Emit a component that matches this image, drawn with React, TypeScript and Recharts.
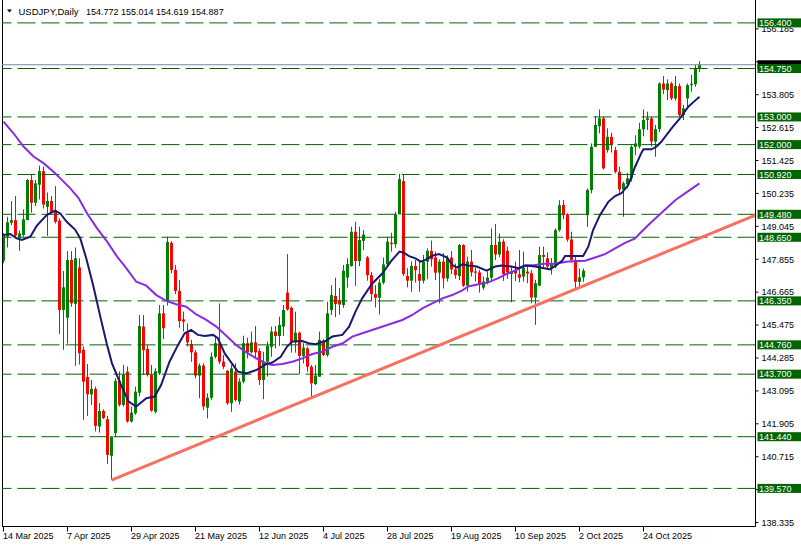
import React from 'react';
import { ComposedChart, Bar, Line, XAxis, YAxis, ReferenceLine } from 'recharts';

const COLOR_BULL = '#008000';
const COLOR_BEAR = '#ff0000';
const COLOR_FAST = '#191970';
const COLOR_SLOW = '#8a2be2';
const COLOR_TREND = '#fa7060';
const COLOR_LEVEL = '#006400';
const COLOR_BID = '#778899';
const FONT = '"Liberation Sans", Arial, sans-serif';

// daily bars from 14 Mar 2025, [open, high, low, close]
const ohlc: number[][] = [
  [147.80, 148.80, 147.71, 148.73], [148.67, 149.39, 148.28, 149.19], [149.18, 149.96, 149.09, 149.27],
  [149.27, 150.14, 148.61, 148.71], [148.63, 148.89, 148.16, 148.79], [148.73, 149.66, 148.67, 149.30],
  [149.27, 150.75, 149.27, 150.72], [150.72, 150.91, 149.54, 149.90], [149.90, 150.72, 149.78, 150.60],
  [150.55, 151.24, 150.02, 151.04], [151.04, 151.20, 149.69, 149.83], [149.75, 150.27, 148.70, 149.96],
  [149.96, 150.14, 149.51, 149.57], [149.57, 150.50, 149.15, 149.21], [149.25, 149.33, 145.15, 146.02],
  [146.02, 147.43, 144.58, 146.84], [145.74, 148.15, 144.81, 147.83], [147.83, 148.15, 146.14, 146.26],
  [146.24, 148.28, 144.00, 147.89], [147.56, 147.89, 144.05, 144.46], [144.58, 144.70, 142.05, 143.43],
  [143.60, 144.07, 142.19, 142.97], [142.97, 143.49, 142.59, 143.17], [143.17, 143.25, 141.63, 141.83],
  [141.81, 142.65, 141.59, 142.37], [142.37, 142.43, 142.08, 142.11], [142.07, 142.19, 140.46, 140.78],
  [140.75, 141.45, 139.88, 141.45], [141.57, 143.55, 141.42, 143.46], [143.46, 143.80, 142.53, 142.59],
  [142.59, 144.04, 142.53, 143.67], [143.79, 143.98, 141.95, 141.99], [141.99, 142.53, 141.95, 142.31],
  [142.29, 143.25, 142.23, 143.07], [143.03, 145.84, 142.90, 145.44], [145.42, 145.84, 143.67, 144.57],
  [144.61, 144.75, 143.61, 143.67], [143.67, 144.03, 142.34, 142.38], [142.34, 143.91, 142.28, 143.81],
  [143.73, 146.20, 143.67, 145.90], [145.90, 146.20, 144.97, 145.36], [146.35, 148.67, 146.18, 148.48],
  [148.45, 148.51, 147.35, 147.47], [147.47, 147.65, 146.60, 146.71], [146.71, 147.10, 145.38, 145.62],
  [145.68, 145.96, 145.24, 145.60], [145.24, 145.54, 144.70, 144.85], [144.79, 144.94, 144.15, 144.49],
  [144.49, 144.57, 143.55, 143.65], [143.65, 144.09, 142.83, 144.01], [144.01, 144.09, 142.40, 142.53],
  [142.49, 143.01, 142.10, 142.85], [142.85, 144.49, 142.77, 144.33], [144.33, 145.06, 144.27, 144.82],
  [144.82, 146.26, 144.06, 144.15], [144.15, 144.39, 143.89, 143.97], [143.82, 143.85, 142.59, 142.65],
  [142.65, 144.03, 142.34, 143.91], [143.79, 144.09, 142.71, 142.77], [142.71, 143.55, 142.60, 143.43],
  [143.43, 145.09, 143.37, 144.82], [144.82, 145.02, 144.27, 144.49], [144.49, 145.24, 144.45, 144.85],
  [144.85, 145.44, 144.30, 144.49], [144.54, 144.63, 143.31, 143.49], [143.49, 144.51, 142.80, 144.15],
  [144.15, 144.88, 143.61, 144.72], [144.69, 145.42, 144.33, 145.24], [145.24, 145.44, 144.63, 145.08],
  [145.08, 145.78, 144.72, 145.48], [145.42, 146.20, 145.08, 146.02], [146.65, 148.04, 146.00, 146.04],
  [146.10, 146.15, 144.48, 144.85], [144.85, 145.96, 144.48, 145.20], [145.20, 145.24, 143.71, 144.36],
  [144.36, 144.82, 144.09, 144.66], [144.63, 144.70, 143.79, 143.97], [143.97, 144.03, 142.83, 143.37],
  [143.34, 144.03, 143.31, 143.65], [143.61, 145.24, 143.61, 144.94], [144.91, 144.96, 144.36, 144.39],
  [144.39, 146.32, 144.33, 145.90], [146.02, 146.92, 145.84, 146.56], [146.53, 147.19, 145.76, 146.24],
  [146.35, 146.82, 145.85, 146.22], [146.20, 147.65, 146.10, 147.44], [147.19, 147.89, 146.83, 147.68],
  [147.61, 149.03, 147.59, 148.85], [148.85, 149.21, 146.89, 147.79], [147.79, 149.03, 147.60, 148.55],
  [148.52, 148.91, 148.19, 148.75], [147.92, 147.97, 147.08, 147.28], [147.28, 147.40, 146.34, 146.60],
  [146.60, 146.92, 146.11, 146.46], [146.46, 147.13, 145.86, 147.01], [147.01, 147.92, 146.95, 147.67],
  [147.67, 148.67, 147.59, 148.49], [148.45, 148.81, 148.13, 148.40], [148.40, 149.57, 148.27, 149.48],
  [149.48, 150.94, 149.48, 150.75], [150.68, 150.90, 147.25, 147.32], [147.25, 147.53, 146.84, 147.08],
  [147.08, 147.77, 146.68, 147.61], [147.61, 147.83, 147.01, 147.46], [147.32, 147.77, 146.68, 147.08],
  [147.08, 148.01, 146.98, 147.77], [147.77, 148.25, 147.13, 148.16], [148.16, 148.53, 147.59, 147.85],
  [147.92, 148.13, 147.10, 147.37], [147.37, 147.85, 146.26, 147.77], [147.77, 148.07, 146.80, 147.16],
  [147.16, 148.00, 147.05, 147.90], [147.92, 148.15, 147.32, 147.49], [147.49, 147.70, 147.15, 147.28],
  [147.25, 148.41, 147.10, 148.37], [148.37, 148.40, 146.85, 146.90], [146.90, 147.95, 146.69, 147.77],
  [147.77, 148.19, 147.23, 147.38], [147.41, 147.55, 147.05, 147.37], [147.38, 147.47, 146.65, 146.95],
  [146.83, 147.23, 146.75, 147.05], [147.05, 147.41, 146.95, 147.19], [147.19, 148.97, 147.05, 148.37],
  [148.37, 149.13, 147.83, 148.03], [148.03, 148.79, 147.93, 148.49], [148.49, 148.58, 147.07, 147.32],
  [148.16, 148.31, 147.15, 147.38], [147.32, 147.60, 146.30, 147.40], [147.47, 147.77, 147.07, 147.34],
  [147.31, 148.19, 147.02, 147.19], [147.23, 148.13, 147.05, 147.55], [147.41, 147.65, 146.99, 147.34],
  [147.35, 147.47, 146.26, 146.47], [146.47, 147.11, 145.48, 146.99], [146.90, 148.31, 146.90, 148.01],
  [148.01, 148.31, 147.53, 147.94], [147.89, 148.10, 147.47, 147.59], [147.55, 147.90, 147.30, 147.68],
  [147.59, 148.97, 147.53, 148.91], [148.91, 149.99, 148.85, 149.81], [149.82, 150.00, 149.30, 149.45],
  [149.48, 149.52, 148.49, 148.57], [148.57, 148.85, 147.73, 147.83], [147.83, 147.95, 146.74, 147.04],
  [147.04, 147.52, 146.86, 147.20], [147.20, 147.52, 147.04, 147.44], [149.45, 150.42, 149.03, 150.36],
  [150.36, 152.04, 150.24, 151.92], [151.92, 153.03, 151.92, 152.71], [152.67, 153.27, 152.40, 152.95],
  [152.95, 153.01, 151.10, 151.14], [151.80, 152.59, 151.71, 152.28], [152.28, 152.43, 151.71, 151.98],
  [151.80, 151.92, 150.96, 151.02], [151.02, 151.20, 150.24, 150.38], [150.38, 150.66, 149.39, 150.60],
  [150.57, 150.98, 150.42, 150.78], [150.78, 151.98, 150.66, 151.92], [151.92, 152.34, 151.62, 152.04],
  [151.93, 152.79, 151.86, 152.55], [152.55, 153.27, 152.30, 152.89], [152.89, 153.19, 152.53, 152.95],
  [152.95, 153.00, 151.93, 152.11], [152.11, 152.71, 151.56, 152.56], [152.56, 154.25, 152.45, 154.21],
  [154.21, 154.48, 153.83, 153.99], [153.97, 154.36, 153.61, 154.21], [154.21, 154.27, 153.61, 153.67],
  [153.67, 154.48, 153.59, 154.12], [154.12, 154.21, 153.01, 153.07], [153.07, 153.43, 152.89, 153.31],
  [153.67, 154.21, 153.31, 154.15], [154.15, 154.52, 153.91, 154.20], [154.18, 154.88, 154.09, 154.77],
  [154.772, 155.014, 154.619, 154.887],
];

// fast moving average as [bar, price]
const fastMa: number[][] = [
  [0, 148.73], [1.7, 148.77], [3.3, 148.61], [4.6, 148.55], [6.7, 148.67], [8.3, 149.06], [10.8, 149.45],
  [12.9, 149.61], [14.2, 149.51], [15.8, 149.21], [17.9, 148.93], [19.2, 148.61], [20.8, 147.83],
  [22.5, 146.86], [24.2, 145.78], [25.8, 144.81], [27.1, 144.10], [29.2, 143.37], [31.3, 142.71],
  [33.2, 142.53], [35.7, 142.83], [37.8, 142.89], [39.4, 143.31], [41.5, 144.15], [43.6, 144.75],
  [45.3, 145.18], [46.9, 145.30], [48.6, 145.12], [50.3, 145.08], [52.4, 145.12], [53.6, 145.00],
  [55.3, 144.45], [57.4, 144.03], [58.6, 143.79], [60.7, 143.73], [63.2, 143.85], [65.7, 144.06],
  [67.2, 144.12], [69.3, 144.33], [70.9, 144.70], [72.2, 144.88], [74.7, 144.90], [76.3, 144.82],
  [78.0, 144.78], [80.5, 144.90], [82.2, 145.06], [84.7, 145.12], [86.4, 145.42], [88.0, 145.96],
  [89.7, 146.45], [92.2, 146.98], [94.7, 147.34], [96.8, 147.77], [98.0, 147.97], [99.0, 148.13],
  [100.1, 148.09], [101.4, 147.97], [103.0, 147.89], [104.3, 147.77], [105.5, 147.83], [107.2, 147.98],
  [108.9, 148.04], [110.9, 147.92], [112.2, 147.65], [113.4, 147.55], [114.7, 147.67], [116.2, 147.63],
  [118.3, 147.59], [120.8, 147.44], [122.9, 147.59], [124.5, 147.63], [127.0, 147.59], [128.7, 147.53],
  [130.4, 147.63], [132.9, 147.59], [134.5, 147.55], [136.6, 147.49], [138.3, 147.65], [139.7, 147.81],
  [140.4, 147.97], [142.0, 147.97], [144.9, 147.97], [146.2, 148.31], [147.4, 148.91], [149.1, 149.45],
  [151.2, 149.93], [152.9, 150.14], [154.5, 150.24], [156.2, 150.54], [157.9, 151.20], [159.5, 151.71],
  [160.0, 151.83], [162.0, 151.83], [163.3, 151.93], [164.5, 152.11], [167.0, 152.59], [169.1, 152.95],
  [171.2, 153.37], [172.9, 153.59], [174.0, 153.73],
];

// slow moving average as [bar, price]
const slowMa: number[][] = [
  [0, 152.83], [2.5, 152.41], [5, 151.93], [7.5, 151.57], [10, 151.33], [12.5, 151.02], [14.2, 150.78],
  [16.7, 150.42], [18.8, 150.06], [20.9, 149.51], [23.4, 148.97], [25.9, 148.49], [28.4, 147.95],
  [30.4, 147.59], [33.2, 147.04], [35.7, 146.90], [38.2, 146.56], [40.7, 146.35], [43.2, 146.23],
  [45.7, 146.14], [48.2, 145.86], [50.7, 145.66], [53.2, 145.42], [55.7, 145.09], [58.2, 144.75],
  [60.7, 144.49], [63.2, 144.27], [65.7, 144.09], [67.2, 144.03], [69.7, 144.07], [72.2, 144.15],
  [74.7, 144.27], [77.2, 144.43], [79.7, 144.51], [82.2, 144.69], [84.7, 144.81], [87.2, 145.06],
  [89.7, 145.18], [99.7, 145.66], [102.2, 145.84], [104.7, 146.08], [107.2, 146.26], [109.7, 146.44],
  [112.2, 146.56], [114.7, 146.73], [116.2, 146.87], [118.7, 146.95], [121.2, 147.02], [123.7, 147.17],
  [126.2, 147.35], [128.7, 147.50], [130.4, 147.63], [132.9, 147.65], [135.4, 147.69], [137.9, 147.69],
  [139.7, 147.74], [141.2, 147.77], [145.4, 147.80], [147.9, 147.92], [150.4, 148.04], [152.9, 148.25],
  [155.4, 148.45], [157.9, 148.61], [159.5, 148.85], [162, 149.2], [165, 149.6], [168, 150.0],
  [171, 150.3], [174, 150.6],
];

const trendLine = [
  { x: 27, y: 139.87 },
  { x: 188, y: 149.45 },
];

const levels = [156.4, 154.75, 153.0, 152.0, 150.92, 149.48, 148.65, 146.35, 144.76, 143.7, 141.44, 139.57];
const bid = 154.887;
// 154.995 and 139.525 sit under the level boxes, only their tick marks show
const priceTicks = [
  156.185, 154.995, 153.805, 152.615, 151.425, 150.235, 149.045, 147.855,
  146.665, 145.475, 144.285, 143.095, 141.905, 140.715, 139.525, 138.335,
];
const hiddenTicks = [154.995, 139.525];
const dateTicks = [0, 16, 32, 48, 64, 80, 96, 112, 128, 144, 160];
const dateLabels = [
  '14 Mar 2025', '7 Apr 2025', '29 Apr 2025', '21 May 2025', '12 Jun 2025', '4 Jul 2025',
  '28 Jul 2025', '19 Aug 2025', '10 Sep 2025', '2 Oct 2025', '24 Oct 2025',
];

const data = ohlc.map(([o, h, l, c], i) => ({ i, o, h, l, c, range: [l, h] }));
const fastData = fastMa.map(([i, v]) => ({ i, v }));
const slowData = slowMa.map(([i, v]) => ({ i, v }));

function Candle(props: any) {
  const { x, y, width, height, payload } = props;
  if (!payload || height == null) return null;
  const { o, h, l, c } = payload;
  const color = c >= o ? COLOR_BULL : COLOR_BEAR;
  const k = height / (h - l);
  const cx = Math.floor(x + width / 2) + 0.5;
  const top = y + (h - Math.max(o, c)) * k;
  const bot = y + (h - Math.min(o, c)) * k;
  return (
    <g>
      <line x1={cx} x2={cx} y1={y} y2={y + height} stroke={color} strokeWidth={1} />
      <rect x={cx - 1.5} y={top} width={3} height={Math.max(1, bot - top)} fill={color} />
    </g>
  );
}

function PriceTick(props: any) {
  const { x, y, payload } = props;
  const v = payload.value;
  if (v === bid) {
    // current price box, mostly covered by the 154.750 box
    return <rect x={x - 4} y={y - 4.5} width={46} height={9} fill="#000" />;
  }
  if (levels.includes(v)) {
    return (
      <g>
        <rect x={x - 4} y={y - 4.5} width={46} height={9} fill={COLOR_LEVEL} />
        <text x={x - 2.5} y={y + 3.3} fill="#fff" fontSize={9} fontFamily={FONT}>
          {v.toFixed(3)}
        </text>
      </g>
    );
  }
  return (
    <g>
      <line x1={x - 6} x2={x - 3} y1={y} y2={y} stroke="#000" />
      {!hiddenTicks.includes(v) && (
        <text x={x} y={y + 3.3} fill="#000" fontSize={9} fontFamily={FONT}>
          {v.toFixed(3)}
        </text>
      )}
    </g>
  );
}

function DateTick(props: any) {
  const { x, y, payload } = props;
  const label = dateLabels[dateTicks.indexOf(payload.value)];
  return (
    <text x={x - 0.5} y={y + 5.5} fill="#000" fontSize={9} fontFamily={FONT} textAnchor="start">
      {label}
    </text>
  );
}

export default function App() {
  return (
    <div style={{ position: 'absolute', left: 0, top: 0, width: 801, height: 547, background: '#fff' }}>
      <ComposedChart
        width={801}
        height={547}
        data={data}
        margin={{ top: 0, right: 0, bottom: 0, left: 2 }}
      >
        <XAxis
          type="number"
          dataKey="i"
          domain={[-0.375, 188]}
          allowDataOverflow
          ticks={dateTicks}
          interval={0}
          height={20.5}
          tickSize={5}
          tickMargin={2}
          axisLine={{ stroke: '#000' }}
          tickLine={{ stroke: '#000' }}
          tick={DateTick}
        />
        <YAxis
          orientation="right"
          type="number"
          domain={[138.193, 157.228]}
          allowDataOverflow
          ticks={[...priceTicks, bid, ...levels]}
          interval={0}
          width={45.5}
          tickSize={3}
          tickMargin={3}
          axisLine={{ stroke: '#000' }}
          tickLine={false}
          tick={PriceTick}
        />
        <ReferenceLine x={-0.25} stroke="#000" ifOverflow="visible" />
        {levels.map((lv) => (
          <ReferenceLine key={lv} y={lv} stroke={COLOR_LEVEL} strokeDasharray="18 6" />
        ))}
        <ReferenceLine y={bid} stroke={COLOR_BID} />
        <ReferenceLine segment={trendLine} stroke={COLOR_TREND} strokeWidth={3} ifOverflow="visible" />
        <Line
          data={slowData}
          dataKey="v"
          type="linear"
          stroke={COLOR_SLOW}
          strokeWidth={2}
          dot={false}
          isAnimationActive={false}
        />
        <Line
          data={fastData}
          dataKey="v"
          type="linear"
          stroke={COLOR_FAST}
          strokeWidth={2}
          dot={false}
          isAnimationActive={false}
        />
        <Bar dataKey="range" barSize={3} shape={Candle} isAnimationActive={false} />
      </ComposedChart>
      <svg width={300} height={20} style={{ position: 'absolute', left: 0, top: 0 }}>
        <polygon points="7,9.5 12,9.5 9.5,12.5" fill="#000" />
        <text x={18.5} y={14.5} fontSize={9.5} fontFamily={FONT} fill="#000">USDJPY,Daily</text>
        <text x={86} y={14.5} fontSize={9} fontFamily={FONT} fill="#000">154.772 155.014 154.619 154.887</text>
      </svg>
    </div>
  );
}
